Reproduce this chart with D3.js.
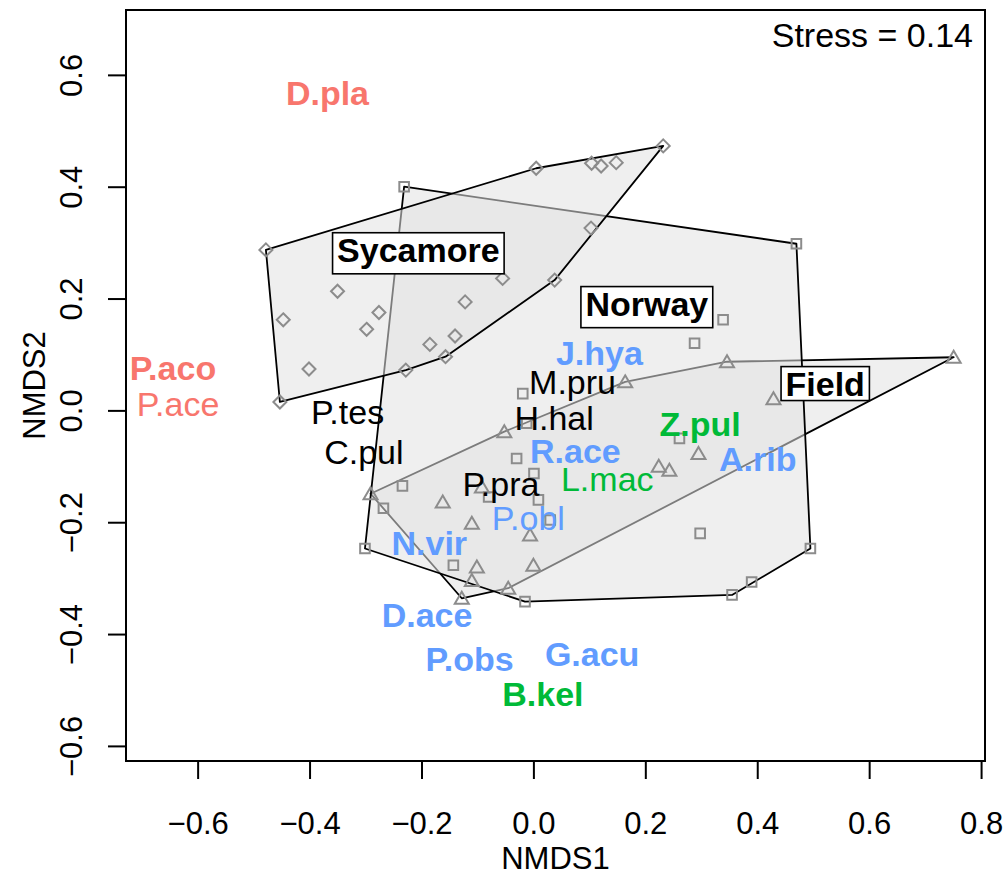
<!DOCTYPE html>
<html><head><meta charset="utf-8">
<script src="https://cdn.jsdelivr.net/npm/d3@7"></script>
<style>
body{margin:0;background:#fff}
svg{display:block}
text{font-family:"Liberation Sans",Arial,Helvetica,sans-serif}
</style>
</head><body>
<svg id="chart" width="1005" height="876"></svg>
<script>
// ---------- data ----------
const xTicks = [-0.6, -0.4, -0.2, 0.0, 0.2, 0.4, 0.6, 0.8];
const yTicks = [-0.6, -0.4, -0.2, 0.0, 0.2, 0.4, 0.6];
const stressLabel = "Stress = 0.14";

// site scores, by group
const sycamoreX = [-0.478,-0.453,-0.447,-0.401,-0.350,-0.298,-0.276,-0.228,-0.185,-0.157,-0.140,-0.122,-0.055,0.038,0.103,0.005,0.104,0.121,0.148,0.232];
const sycamoreY = [0.287,0.015,0.162,0.074,0.213,0.145,0.175,0.072,0.118,0.096,0.133,0.194,0.236,0.233,0.326,0.433,0.442,0.437,0.443,0.473];

const norwayX = [-0.231,0.470,0.339,0.288,-0.019,-0.012,-0.030,0.001,-0.234,-0.268,-0.080,0.009,0.030,-0.301,-0.143,-0.015,0.261,0.298,0.495,0.390,0.355];
const norwayY = [0.400,0.298,0.162,0.120,0.030,-0.023,-0.086,-0.113,-0.135,-0.175,-0.155,-0.160,-0.196,-0.247,-0.277,-0.342,-0.050,-0.220,-0.247,-0.307,-0.330];

const fieldX = [-0.291,-0.052,0.164,0.346,0.751,0.429,0.295,0.224,0.243,-0.162,-0.092,-0.110,-0.006,-0.101,0.000,-0.110,-0.045,-0.128];
const fieldY = [-0.149,-0.038,0.051,0.087,0.095,0.021,-0.077,-0.100,-0.107,-0.164,-0.137,-0.202,-0.223,-0.280,-0.277,-0.304,-0.318,-0.336];

// group centroid labels
const groupNames = ["Sycamore", "Norway", "Field"];
const groupLabelX = [-0.2056, 0.2027, 0.5215];
const groupLabelY = [0.2877, 0.1914, 0.0483];

// species scores
const speciesNames = ["D.pla","P.aco","P.ace","P.tes","C.pul","M.pru","H.hal","P.pra","J.hya","R.ace","A.rib","P.obl","N.vir","D.ace","P.obs","G.acu","Z.pul","L.mac","B.kel"];
const speciesX = [-0.368,-0.644,-0.635,-0.332,-0.303,0.070,0.037,-0.058,0.118,0.075,0.401,-0.009,-0.186,-0.190,-0.114,0.105,0.298,0.132,0.017];
const speciesY = [0.568,0.076,0.011,-0.003,-0.074,0.051,-0.014,-0.132,0.103,-0.072,-0.087,-0.193,-0.237,-0.365,-0.445,-0.436,-0.024,-0.122,-0.506];
const speciesType = ["Sycamore","Sycamore","Sycamore","None","None","None","None","None","Norway","Norway","Norway","Norway","Norway","Norway","Norway","Norway","Field","Field","Field"];
const speciesBold = [true,true,false,false,false,false,false,false,true,true,true,false,true,true,true,true,true,false,true];

// ---------- styles ----------
const typeColor = {Sycamore:"#F8766D", None:"#000000", Norway:"#619CFF", Field:"#00BA38"};
const FS = 34, AX_FS = 31;
const W = 1005, H = 876;
const box = {left:126, right:985, top:10, bottom:761};

const svg = d3.select("#chart");
const x = d3.scaleLinear().domain([-0.728, 0.807]).range([box.left, box.right]);
const y = d3.scaleLinear().domain([-0.627, 0.716]).range([box.bottom, box.top]);

// ---------- hulls ----------
const groups = [
  {name:"Field", xs:fieldX, ys:fieldY, shape:"triangle"},
  {name:"Norway", xs:norwayX, ys:norwayY, shape:"square"},
  {name:"Sycamore", xs:sycamoreX, ys:sycamoreY, shape:"diamond"}
];
const hullLayer = svg.append("g");
groups.forEach(g => {
  const pts = g.xs.map((v,i) => [x(v), y(g.ys[i])]);
  const hull = d3.polygonHull(pts);
  hullLayer.append("path")
    .attr("d", "M" + hull.map(p => p.join(",")).join("L") + "Z")
    .attr("fill", "rgb(226,226,226)")
    .attr("fill-opacity", 0.55)
    .attr("stroke", "#000")
    .attr("stroke-width", 1.8)
    .attr("stroke-linejoin", "round");
});

// ---------- points ----------
const shapes = {
  diamond: "M0,-6.5L6.5,0L0,6.5L-6.5,0Z",
  square: "M-4.8,-4.8L4.8,-4.8L4.8,4.8L-4.8,4.8Z",
  triangle: "M0,-6.5L7,5.5L-7,5.5Z"
};
const ptLayer = svg.append("g");
groups.forEach(g => {
  ptLayer.selectAll(null).data(g.xs.map((v,i) => [v, g.ys[i]])).enter()
    .append("path")
    .attr("d", shapes[g.shape])
    .attr("transform", d => `translate(${x(d[0])},${y(d[1])})`)
    .attr("fill", "none")
    .attr("stroke", "#8c8c8c")
    .attr("stroke-width", 2);
});

// ---------- species labels ----------
svg.append("g").selectAll("text")
  .data(speciesNames.map((n,i) => ({n, x:speciesX[i], y:speciesY[i], t:speciesType[i], b:speciesBold[i]})))
  .enter().append("text")
  .attr("x", d => x(d.x))
  .attr("y", d => y(d.y) + 0.358*FS)
  .attr("text-anchor", "middle")
  .attr("font-size", FS)
  .attr("font-weight", d => d.b ? "bold" : "normal")
  .attr("fill", d => typeColor[d.t])
  .text(d => d.n);

// ---------- group labels ----------
const glLayer = svg.append("g");
groupNames.forEach((n,i) => {
  const cx = x(groupLabelX[i]), cy = y(groupLabelY[i]);
  const g = glLayer.append("g");
  const rect = g.append("rect");
  const t = g.append("text")
    .attr("x", cx).attr("y", cy + 0.358*FS)
    .attr("text-anchor", "middle")
    .attr("font-size", FS).attr("font-weight", "bold")
    .attr("fill", "#000").text(n);
  const w = t.node().getComputedTextLength();
  const desc = /[gjpqy]/.test(n) ? 0.21*FS : 0;
  const top = cy - 0.358*FS - 4.6;
  const bottom = cy + 0.358*FS + desc + 5;
  rect.attr("x", cx - w/2 - 4.5).attr("y", top)
    .attr("width", w + 9).attr("height", bottom - top)
    .attr("fill", "#fff").attr("stroke", "#000").attr("stroke-width", 1.6);
});

// ---------- axes ----------
const fmt = v => (v < 0 ? "\u2212" : "") + Math.abs(v).toFixed(1);
const xAxis = svg.append("g").attr("transform", `translate(0,${box.bottom})`)
  .call(d3.axisBottom(x).tickValues(xTicks).tickSize(18).tickPadding(33).tickFormat(fmt));
xAxis.select(".domain").remove();
xAxis.selectAll("line").attr("stroke", "#000").attr("stroke-width", 2);
xAxis.selectAll("text").attr("font-size", AX_FS).attr("fill", "#000")
  .attr("font-family", '"Liberation Sans",Arial,sans-serif');

const yAxis = svg.append("g").attr("transform", `translate(${box.left},0)`)
  .call(d3.axisLeft(y).tickValues(yTicks).tickSize(18).tickFormat(fmt));
yAxis.select(".domain").remove();
yAxis.selectAll("line").attr("stroke", "#000").attr("stroke-width", 2);
yAxis.selectAll("text")
  .attr("x", null).attr("dy", null)
  .attr("text-anchor", "middle")
  .attr("transform", "translate(-44.3,0) rotate(-90)")
  .attr("font-size", AX_FS).attr("fill", "#000")
  .attr("font-family", '"Liberation Sans",Arial,sans-serif');

// plot box
svg.append("rect")
  .attr("x", box.left).attr("y", box.top)
  .attr("width", box.right - box.left).attr("height", box.bottom - box.top)
  .attr("fill", "none").attr("stroke", "#000").attr("stroke-width", 2);

// axis titles
svg.append("text").attr("x", (box.left + box.right)/2).attr("y", 869)
  .attr("text-anchor", "middle").attr("font-size", AX_FS).text("NMDS1");
svg.append("text")
  .attr("transform", `translate(45,${(box.top + box.bottom)/2}) rotate(-90)`)
  .attr("text-anchor", "middle").attr("font-size", AX_FS).text("NMDS2");

// stress
svg.append("text").attr("x", 973).attr("y", 47)
  .attr("text-anchor", "end").attr("font-size", FS).text(stressLabel);
</script>
</body></html>
